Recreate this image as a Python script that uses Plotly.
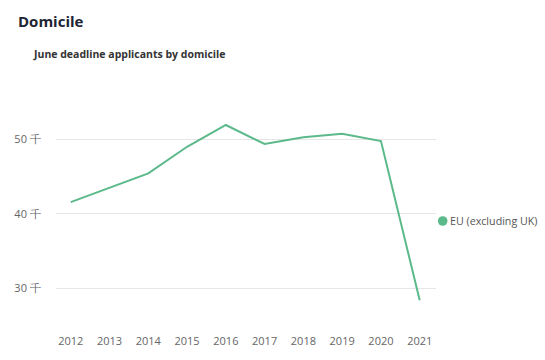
import plotly.graph_objects as go

years = [2012, 2013, 2014, 2015, 2016, 2017, 2018, 2019, 2020, 2021]
eu_values = [41.57, 43.49, 45.42, 49.0, 51.92, 49.37, 50.27, 50.75, 49.77, 28.39]
series_name = "EU (excluding UK)"
y_ticks = [30, 40, 50]
y_tick_labels = ["30 千", "40 千", "50 千"]

color = "#5bb98a"
font = "Open Sans"

L, R, T, B = 56, 109, 80, 45
W, H = 545, 360
pw = W - L - R
ph = H - T - B
def px(x): return (x - L) / pw
def py(y): return (H - B - y) / ph

fig = go.Figure()
fig.add_trace(go.Scatter(x=years, y=eu_values, mode="lines",
                         line=dict(color=color, width=2),
                         showlegend=False, name=series_name))

fig.update_layout(
    width=W, height=H,
    margin=dict(l=L, r=R, t=T, b=B, autoexpand=False),
    paper_bgcolor="white", plot_bgcolor="white",
    font=dict(family=font, size=11, color="#666666"),
    showlegend=False,
    xaxis=dict(range=[2011.62, 2021.42], tickvals=years, showgrid=False,
               zeroline=False, showline=False, ticks="outside", ticklen=16,
               tickcolor="rgba(0,0,0,0)", automargin=False,
               tickfont=dict(size=11, color="#666666")),
    yaxis=dict(range=[26.42, 57.96], tickvals=y_ticks, ticktext=y_tick_labels,
               showgrid=True, gridcolor="#e6e6e6", gridwidth=1, zeroline=False,
               showline=False, ticks="outside", ticklen=12, tickcolor="rgba(0,0,0,0)",
               automargin=False, tickfont=dict(size=11, color="#666666")),
)

# legend (drawn as shape + text)
r = 4.8
fig.add_shape(type="circle", xref="paper", yref="paper",
              x0=px(442.7 - r), x1=px(442.7 + r), y0=py(221 + r), y1=py(221 - r),
              fillcolor=color, line=dict(width=0))
fig.add_annotation(text=series_name, x=px(447.5), y=py(221), xref="paper", yref="paper",
                   xanchor="left", yanchor="middle", showarrow=False,
                   font=dict(family=font, size=10.7, color="#555555"))

fig.add_annotation(text="<b>Domicile</b>", x=px(16), y=py(21), xref="paper", yref="paper",
                   xanchor="left", yanchor="middle", showarrow=False,
                   font=dict(family=font, size=15, color="#1e2433"))
fig.add_annotation(text="<b>June deadline applicants by domicile</b>", x=px(31), y=py(54),
                   xref="paper", yref="paper", xanchor="left", yanchor="middle",
                   showarrow=False, font=dict(family=font, size=10.5, color="#333333"))

fig.write_html("out.html", config={"displayModeBar": False},
               post_script="document.body.style.margin='0';")
